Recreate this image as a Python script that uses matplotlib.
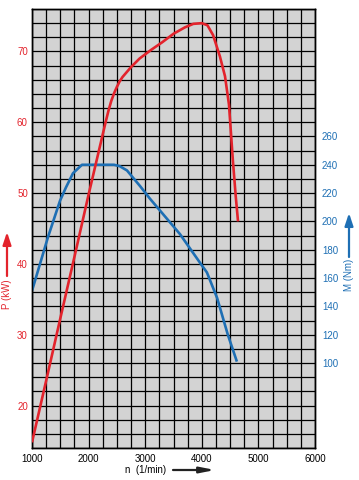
import matplotlib
matplotlib.use('Agg')
import matplotlib.pyplot as plt
from matplotlib.ticker import MultipleLocator
from matplotlib.patches import FancyArrowPatch

# 讀圖估計的數據
rpm_power = [1000, 1250, 1500, 1750, 2000, 2200, 2300, 2350, 2400, 2450, 2500, 2550,
             2600, 2750, 2900, 3100, 3300, 3500, 3700, 3850, 4000, 4100, 4200, 4320,
             4410, 4480, 4550, 4600, 4640]
power_kw = [14.8, 23.5, 32.3, 41.0, 49.8, 56.6, 60.0, 61.6, 63.0, 64.1, 65.0, 65.8,
            66.4, 67.8, 69.0, 70.2, 71.3, 72.5, 73.4, 73.9, 74.0, 73.7, 72.3, 69.3,
            66.5, 62.5, 54.5, 49.5, 46.0]

rpm_torque = [1000, 1283, 1495, 1600, 1724, 1883, 2000, 2450, 2550, 2678, 2908, 3085,
              3615, 3790, 4000, 4090, 4180, 4270, 4460, 4620]
torque_nm = [151, 189, 214.6, 224, 234, 240, 240, 240, 239, 236, 225, 216,
             191, 181, 169, 164, 155, 146, 120, 101]

x_ticks = [1000, 2000, 3000, 4000, 5000, 6000]
p_ticks = [20, 30, 40, 50, 60, 70]
m_ticks = [100, 120, 140, 160, 180, 200, 220, 240, 260]

RED = '#e3232c'
BLUE = '#1e6fb4'
GREY = '#d3d3d3'

plt.rcParams['font.family'] = ['Liberation Sans', 'DejaVu Sans']

W, H = 359, 480
fig = plt.figure(figsize=(W / 100, H / 100), dpi=100)
fig.patch.set_facecolor('white')

# 主軸位置 (像素換算)
left, right, top, bottom = 32, 315, 9, 448
ax = fig.add_axes([left / W, 1 - bottom / H, (right - left) / W, (bottom - top) / H])
ax2 = ax.twinx()

ax.set_xlim(1000, 6000)
ax.set_ylim(14, 76)
ax2.set_ylim(40, 350)   # M = 5*P - 30

ax.set_xticks(x_ticks)
ax.xaxis.set_minor_locator(MultipleLocator(250))
ax.set_yticks(p_ticks)
ax2.set_yticks(m_ticks)
ax2.yaxis.set_minor_locator(MultipleLocator(10))

# 背景與格線畫在下層的 ax2
ax.set_zorder(ax2.get_zorder() + 1)
ax.patch.set_visible(False)
ax2.patch.set_visible(True)
ax2.patch.set_facecolor(GREY)
ax2.xaxis.set_visible(True)
ax2.tick_params(axis='x', which='both', labelbottom=False, labeltop=False,
                bottom=False, top=False)
ax2.grid(True, which='both', axis='both', color='black', linewidth=0.9)

ax2.plot(rpm_torque, torque_nm, color=BLUE, linewidth=1.9, solid_capstyle='butt', zorder=5)
ax.plot(rpm_power, power_kw, color=RED, linewidth=1.9, solid_capstyle='butt', zorder=5)

ax.tick_params(axis='both', which='both', length=0)
ax2.tick_params(axis='y', which='both', length=0)
ax.tick_params(axis='x', labelsize=7, pad=4, colors='black')
ax.tick_params(axis='y', labelsize=7, pad=3, labelcolor=RED)
ax2.tick_params(axis='y', labelsize=7, pad=5, labelcolor=BLUE)

for a in (ax, ax2):
    for s in a.spines.values():
        s.set_color('black')
        s.set_linewidth(1.0)

# 軸標籤與箭頭
def fx(px):
    return px / W

def fy(py):
    return 1 - py / H

def add_arrow(p0, p1, color, head_length, head_width, lw):
    fig.patches.append(FancyArrowPatch(
        (fx(p0[0]), fy(p0[1])), (fx(p1[0]), fy(p1[1])), transform=fig.transFigure,
        arrowstyle=f'-|>,head_length={head_length},head_width={head_width}',
        color=color, linewidth=lw, mutation_scale=2.5, shrinkA=0, shrinkB=0))

fig.text(fx(7), fy(294), 'P (kW)', rotation=90, color=RED, fontsize=7,
         ha='center', va='center')
add_arrow((7, 276), (7, 232), RED, 3.0, 1.0, 1.6)

fig.text(fx(349), fy(275), 'M (Nm)', rotation=90, color=BLUE, fontsize=7,
         ha='center', va='center')
add_arrow((349, 257), (349, 213), BLUE, 3.0, 1.0, 1.6)

fig.text(fx(146), fy(470), 'n  (1/min)', color='black', fontsize=7,
         ha='center', va='center')
add_arrow((173, 470), (215, 470), '#222222', 3.5, 0.7, 1.6)

fig.savefig('out.png', dpi=100)
